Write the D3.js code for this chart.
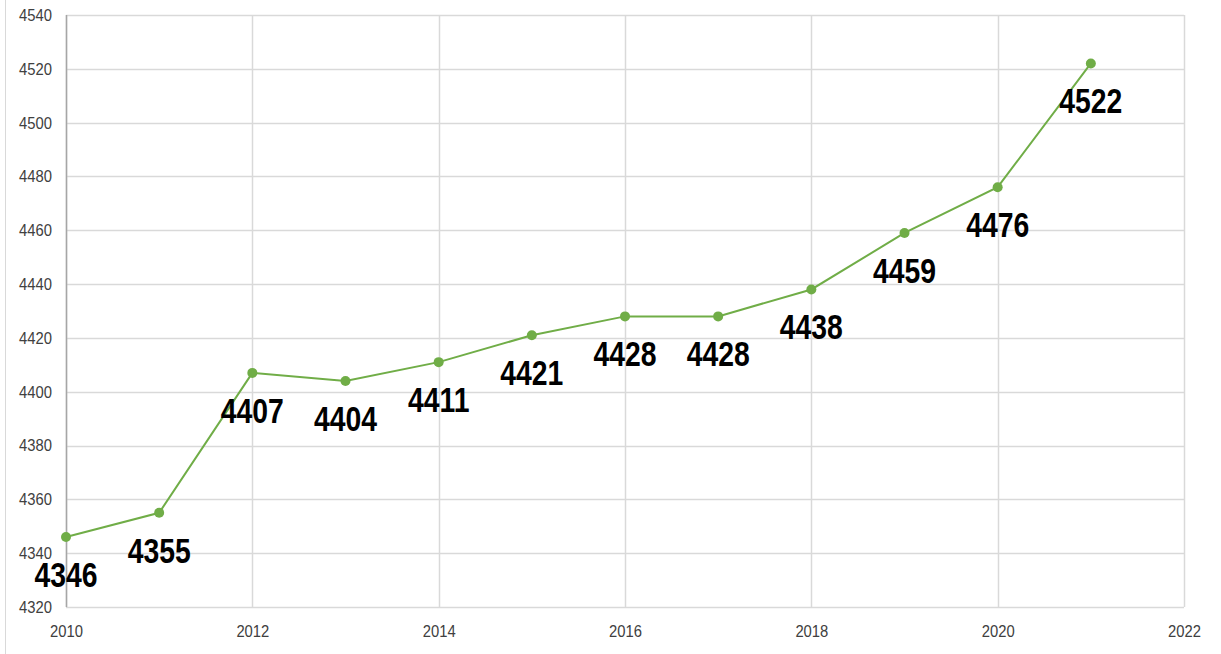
<!DOCTYPE html>
<html><head><meta charset="utf-8">
<script src="https://cdn.jsdelivr.net/npm/d3@7"></script>
<style>body{margin:0;background:#fff;}svg{display:block;}</style>
</head><body>
<svg id="c" width="1221" height="654"></svg>
<script>
const years = [2010,2011,2012,2013,2014,2015,2016,2017,2018,2019,2020,2021];
const values = [4346,4355,4407,4404,4411,4421,4428,4428,4438,4459,4476,4522];
const xTicks = [2010,2012,2014,2016,2018,2020,2022];
const yTicks = [4320,4340,4360,4380,4400,4420,4440,4460,4480,4500,4520,4540];

const svg = d3.select('#c');
const font = '"Liberation Sans",Arial,sans-serif';
const x = d3.scaleLinear().domain([2010,2022]).range([66,1184]);
const y = d3.scaleLinear().domain([4320,4540]).range([607,15]);

// outer frame line
svg.append('line').attr('x1',5.5).attr('x2',5.5).attr('y1',0).attr('y2',654).attr('stroke','#d9d9d9');

// gridlines
svg.append('g').selectAll('line').data(yTicks).join('line')
  .attr('x1',x(2010)).attr('x2',x(2022)).attr('y1',d=>Math.round(y(d))+0.5).attr('y2',d=>Math.round(y(d))+0.5)
  .attr('stroke','#d9d9d9').attr('stroke-width',1.5);
svg.append('g').selectAll('line').data(xTicks).join('line')
  .attr('x1',d=>Math.round(x(d))+0.5).attr('x2',d=>Math.round(x(d))+0.5).attr('y1',y(4540)).attr('y2',y(4320))
  .attr('stroke','#d9d9d9').attr('stroke-width',1.5);
// left axis line
svg.append('line').attr('x1',x(2010)+0.5).attr('x2',x(2010)+0.5).attr('y1',y(4540)).attr('y2',y(4320))
  .attr('stroke','#a6a6a6').attr('stroke-width',1.5);

// axes labels (condensed via horizontal scale)
const yAxis = svg.append('g').attr('transform',`translate(${x(2010)},0)`)
  .call(d3.axisLeft(y).tickValues(yTicks).tickSize(0).tickPadding(14).tickFormat(d3.format('d')));
yAxis.select('.domain').remove();
yAxis.selectAll('text').attr('font-family',font).attr('font-size',17).attr('fill','#404040')
  .attr('x',0).attr('transform','translate(-14,0) scale(0.87,1)');

const xAxis = svg.append('g').attr('transform',`translate(0,${y(4320)})`)
  .call(d3.axisBottom(x).tickValues(xTicks).tickSize(0).tickPadding(18).tickFormat(d3.format('d')));
xAxis.select('.domain').remove();
xAxis.selectAll('text').attr('font-family',font).attr('font-size',17).attr('fill','#404040')
  .attr('transform','scale(0.87,1)').attr('x',function(){return 0;});
// fix x positions after scaling: place each tick text within its tick group
xAxis.selectAll('.tick text').attr('transform','scale(0.87,1)');

// line
const data = years.map((yr,i)=>({yr,v:values[i]}));
svg.append('path').datum(data)
  .attr('d',d3.line().x(d=>x(d.yr)).y(d=>y(d.v)))
  .attr('fill','none').attr('stroke','#70AD47').attr('stroke-width',2);
svg.append('g').selectAll('circle').data(data).join('circle')
  .attr('cx',d=>x(d.yr)).attr('cy',d=>y(d.v)).attr('r',5).attr('fill','#70AD47');

// data labels
svg.append('g').selectAll('text').data(data).join('text')
  .attr('transform',d=>`translate(${x(d.yr)},${y(d.v)+50}) scale(0.81,1)`)
  .attr('text-anchor','middle').attr('font-family',font).attr('font-weight','bold')
  .attr('font-size',35).attr('fill','#000').text(d=>d.v);
</script>
</body></html>
